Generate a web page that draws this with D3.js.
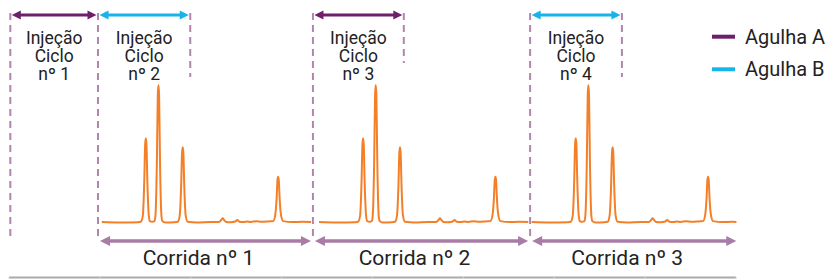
<!DOCTYPE html>
<html><head><meta charset="utf-8">
<script src="https://cdn.jsdelivr.net/npm/d3@7"></script>
<style>html,body{margin:0;padding:0;background:#fff;}svg{display:block;font-family:Roboto,"Noto Sans",sans-serif;}</style>
</head><body>
<svg id="chart" width="832" height="279"></svg>
<script>
// ---- data (time in minutes) ----
const cycleLabels = ["nº 1", "nº 2", "nº 3", "nº 4"];
const cycleNeedle = ["Agulha A", "Agulha B", "Agulha A", "Agulha B"];
const cycleStart = [0.02, 0.985, 3.35, 5.74];
const cycleEnd = [0.985, 2.0, 4.35, 6.75];
const runLabels = ["Corrida nº 1", "Corrida nº 2", "Corrida nº 3"];
const runStart = [0.985, 3.35, 5.74];
const runEnd = [3.35, 5.74, 8.03];
const traceStart = [1.026, 3.417, 5.757];
const needles = ["Agulha A", "Agulha B"];
const timeTicks = [0, 1, 2, 3, 4, 5, 6, 7, 8];
// chromatogram trace: [time after injection (min), signal (% of max)]
const traceTime = [0.000,0.200,0.400,0.430,0.452,0.468,0.478,0.485,0.492,0.502,0.518,0.530,0.555,
  0.580,0.591,0.607,0.617,0.624,0.631,0.641,0.657,0.668,0.700,0.800,
  0.836,0.858,0.874,0.884,0.891,0.898,0.908,0.924,0.946,1.050,1.200,
  1.290,1.315,1.331,1.347,1.370,1.420,1.470,1.492,1.515,1.560,1.600,1.640,1.700,1.760,1.840,
  1.886,1.908,1.924,1.934,1.941,1.948,1.958,1.974,1.996,2.100,2.200,2.310];
const traceSignal = [0.3,0.0,0.2,0.5,5,30,57,61.2,57,30,5,1,0.5,
  1,5,45,93,100,93,45,5,1,0,0.2,
  0.5,5,27,51,54.7,51,27,5,0.5,0,0.3,
  0.3,1.8,3.1,1.8,0.4,0.2,0.7,1.8,0.6,0.3,0.8,0.4,0.9,0.5,0.8,
  1,5,17,31,33.3,31,17,5,1,0.3,0.5,0.3];

// ---- drawing ----
const svg = d3.select("#chart");
const x = d3.scaleLinear().domain([0, 8]).range([8.5, 735.5]);
const y = d3.scaleLinear().domain([0, 100]).range([222.5, 85]);
const needleColor = d3.scaleOrdinal().domain(needles).range(["#6d1f6c", "#17b4e9"]);
const dashColor = "#b384ad", runColor = "#a87ca6", traceColor = "#f47f27";

function arrow(g, x1, x2, yy, color, sw, hl, hh) {
  g.append("line").attr("x1", x1 + hl - 1).attr("x2", x2 - hl + 1).attr("y1", yy).attr("y2", yy)
    .attr("stroke", color).attr("stroke-width", sw);
  g.append("path").attr("d", `M${x1},${yy}L${x1 + hl},${yy - hh}L${x1 + hl},${yy + hh}Z`).attr("fill", color);
  g.append("path").attr("d", `M${x2},${yy}L${x2 - hl},${yy - hh}L${x2 - hl},${yy + hh}Z`).attr("fill", color);
}

// axis
const axisG = svg.append("g").attr("transform", "translate(0,277)")
  .call(d3.axisBottom(x).tickValues(timeTicks).tickSize(4).tickSizeOuter(0).tickFormat(""));
axisG.select(".domain").attr("stroke", "#aaaaaa").attr("stroke-width", 2);
axisG.selectAll(".tick line").attr("stroke", "#d4d4d4").attr("stroke-width", 1);

// dashed boundaries
const shortEnds = [77, 63, 77];
const bounds = [];
cycleStart.forEach(t => bounds.push({t, y2: 241}));
cycleEnd.forEach((t, i) => { if (!cycleStart.includes(t)) bounds.push({t, y2: shortEnds[bounds.filter(b => b.y2 !== 241).length]}); });
svg.append("g").selectAll("line").data(bounds).join("line")
  .attr("x1", d => x(d.t)).attr("x2", d => x(d.t)).attr("y1", 13).attr("y2", d => d.y2)
  .attr("stroke", dashColor).attr("stroke-width", 2).attr("stroke-dasharray", "7,5");

// chromatogram traces
const line = d3.line().x(d => d[0]).y(d => y(d[1])).curve(d3.curveMonotoneX);
const defs = svg.append("defs");
runLabels.forEach((r, i) => {
  defs.append("clipPath").attr("id", "clip" + i).append("rect")
    .attr("x", x(runStart[i])).attr("width", x(runEnd[i] - 0.02) - x(runStart[i]))
    .attr("y", 0).attr("height", 279);
  const pts = traceTime.map((t, k) => [x(traceStart[i] + t), traceSignal[k]]);
  svg.append("path").attr("d", line(pts)).attr("fill", "none").attr("stroke", traceColor)
    .attr("stroke-width", 2).attr("stroke-linejoin", "round").attr("clip-path", `url(#clip${i})`);
});

// injection arrows and labels
cycleLabels.forEach((lab, i) => {
  const g = svg.append("g");
  arrow(g, x(cycleStart[i]) + 1.5, x(cycleEnd[i]) - 1.5, 15, needleColor(cycleNeedle[i]), 3, 9, 4.5);
  const cx = (x(cycleStart[i]) + x(cycleEnd[i])) / 2;
  const t = g.append("text").attr("text-anchor", "middle").attr("font-size", 17.5).attr("fill", "#222");
  ["Injeção", "Ciclo", lab].forEach((s, k) => t.append("tspan").attr("x", cx).attr("y", 44 + k * 18).text(s));
});

// run arrows and labels
runLabels.forEach((lab, i) => {
  const g = svg.append("g");
  arrow(g, x(runStart[i]) + 2, x(runEnd[i]) - 2, 241, runColor, 3.5, 10, 5);
  const cx = (x(runStart[i]) + x(runEnd[i])) / 2 - 7;
  g.append("text").attr("x", cx).attr("y", 265).attr("text-anchor", "middle")
    .attr("font-size", 21).attr("fill", "#222").text(lab);
});

// legend
const leg = svg.append("g").selectAll("g").data(needles).join("g")
  .attr("transform", (d, i) => `translate(712,${36.7 + i * 32.6})`);
leg.append("line").attr("x1", 0).attr("x2", 23).attr("stroke", d => needleColor(d)).attr("stroke-width", 4);
leg.append("text").attr("x", 33).attr("y", 6.8).attr("font-size", 20).attr("fill", "#222").text(d => d);
</script>
</body></html>
